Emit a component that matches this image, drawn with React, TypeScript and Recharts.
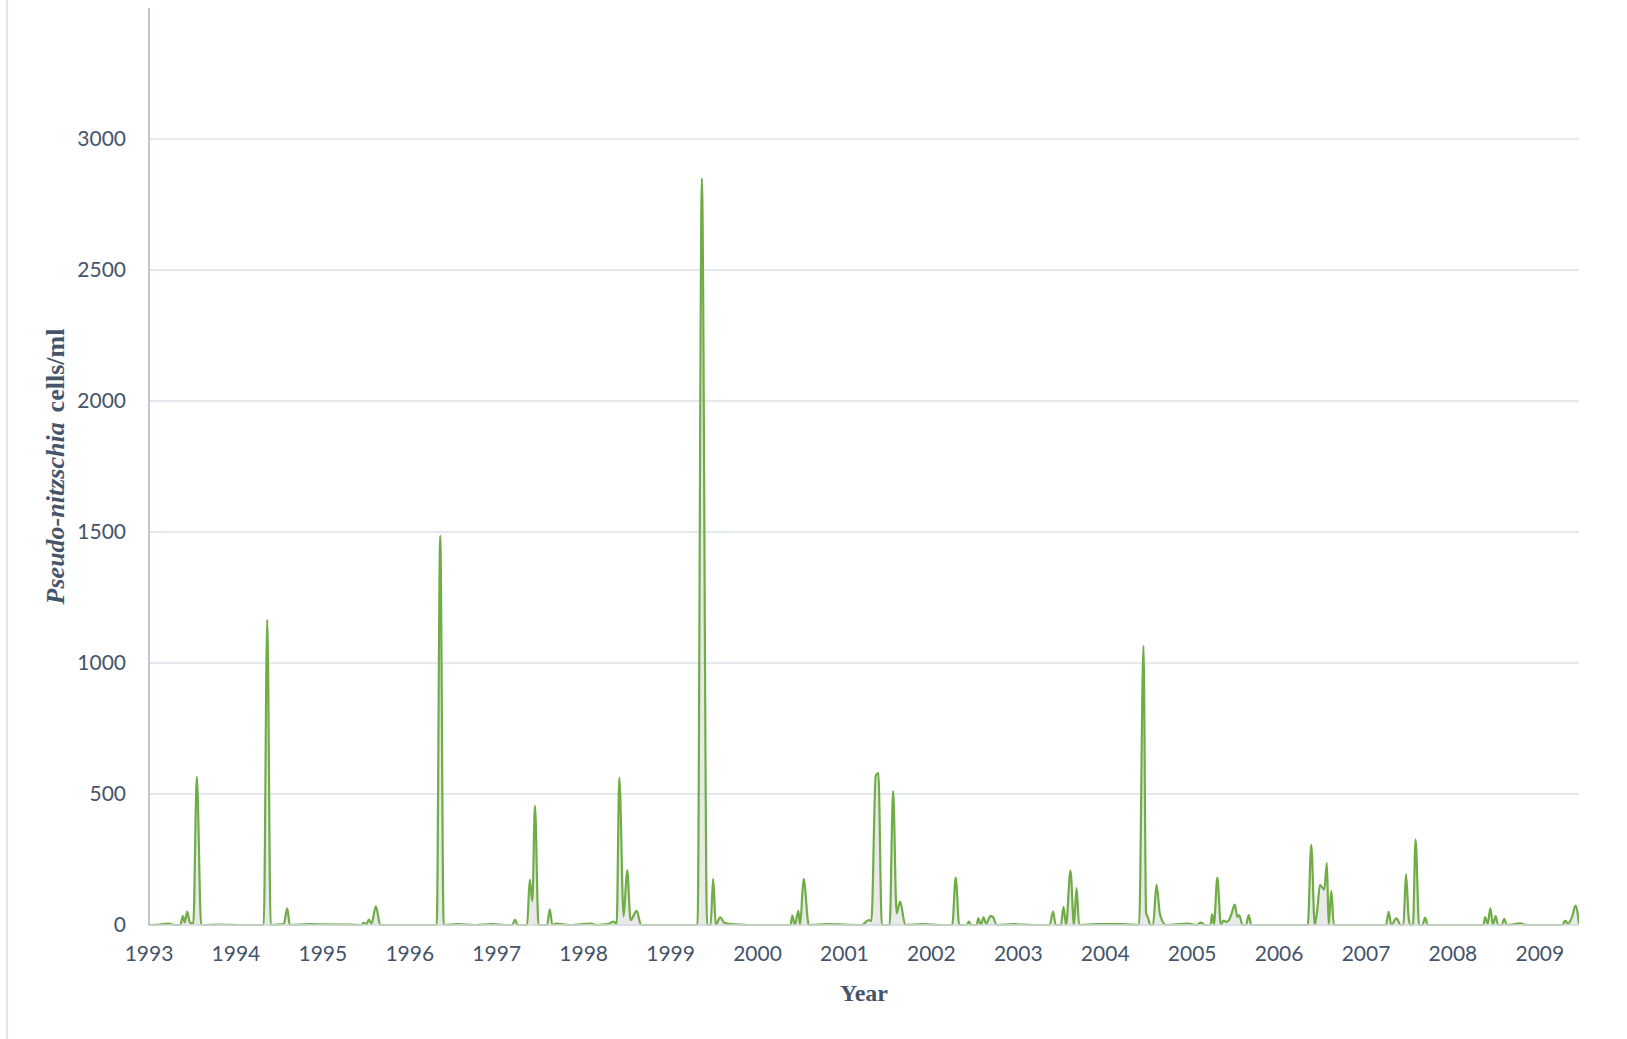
import { Area, CartesianGrid, ComposedChart, XAxis, YAxis } from "recharts";

const yearTicks = [
  1993, 1994, 1995, 1996, 1997, 1998, 1999, 2000, 2001, 2002, 2003, 2004, 2005,
  2006, 2007, 2008, 2009,
];
const countTicks = [0, 500, 1000, 1500, 2000, 2500, 3000];
const countMax = 3500;

// sample dates as decimal years, one line per year
const sampleDates = [
  1993.0, 1993.12, 1993.22, 1993.3, 1993.36, 1993.39, 1993.41, 1993.44, 1993.47, 1993.51, 1993.55, 1993.6, 1993.8,
  1994.1, 1994.32, 1994.36, 1994.4, 1994.55, 1994.59, 1994.62, 1994.85,
  1995.2, 1995.44, 1995.47, 1995.5, 1995.53, 1995.56, 1995.61, 1995.66, 1995.9,
  1996.31, 1996.35, 1996.39, 1996.55, 1996.75, 1996.95,
  1997.1, 1997.18, 1997.21, 1997.24, 1997.35, 1997.38, 1997.41, 1997.44, 1997.48, 1997.58, 1997.61, 1997.64, 1997.68, 1997.85,
  1998.08, 1998.15, 1998.28, 1998.34, 1998.38, 1998.41, 1998.46, 1998.5, 1998.54, 1998.61, 1998.66, 1998.85,
  1999.2, 1999.31, 1999.36, 1999.42, 1999.46, 1999.49, 1999.52, 1999.57, 1999.62, 1999.7, 1999.9,
  2000.3, 2000.38, 2000.4, 2000.43, 2000.47, 2000.49, 2000.53, 2000.59, 2000.8,
  2001.2, 2001.28, 2001.31, 2001.36, 2001.39, 2001.43, 2001.52, 2001.56, 2001.6, 2001.64, 2001.7, 2001.9,
  2002.1, 2002.24, 2002.28, 2002.32, 2002.41, 2002.43, 2002.46, 2002.52, 2002.54, 2002.57, 2002.6, 2002.63, 2002.68, 2002.71, 2002.75, 2002.95,
  2003.2, 2003.36, 2003.4, 2003.43, 2003.49, 2003.52, 2003.55, 2003.6, 2003.64, 2003.67, 2003.7, 2003.9,
  2004.2, 2004.39, 2004.44, 2004.47, 2004.49, 2004.52, 2004.55, 2004.59, 2004.63, 2004.7, 2004.95,
  2005.05, 2005.1, 2005.15, 2005.21, 2005.23, 2005.25, 2005.29, 2005.33, 2005.36, 2005.39, 2005.42, 2005.45, 2005.49, 2005.52, 2005.54, 2005.58, 2005.62, 2005.65, 2005.68, 2005.85,
  2006.2, 2006.33, 2006.37, 2006.41, 2006.44, 2006.47, 2006.52, 2006.55, 2006.57, 2006.6, 2006.63, 2006.7, 2006.9,
  2007.1, 2007.23, 2007.26, 2007.29, 2007.35, 2007.4, 2007.43, 2007.46, 2007.49, 2007.51, 2007.54, 2007.57, 2007.61, 2007.65, 2007.68, 2007.71, 2007.9,
  2008.2, 2008.35, 2008.37, 2008.4, 2008.43, 2008.46, 2008.49, 2008.52, 2008.56, 2008.59, 2008.62, 2008.77, 2008.85,
  2009.1, 2009.26, 2009.29, 2009.32, 2009.37, 2009.41, 2009.45,
];

// Pseudo-nitzschia cells/ml, same layout as sampleDates
const cellsPerMl = [
  0, 2, 5, 0, 0, 34, 10, 51, 10, 5, 565, 0, 2,
  0, 0, 1165, 0, 3, 64, 0, 3,
  2, 0, 8, 3, 21, 5, 71, 0, 0,
  0, 1485, 0, 3, 0, 3,
  0, 0, 21, 0, 0, 173, 91, 455, 0, 0, 60, 0, 5, 0,
  5, 0, 3, 13, 5, 563, 33, 210, 19, 54, 0, 0,
  0, 0, 2850, 0, 0, 176, 0, 29, 8, 3, 0,
  0, 0, 36, 0, 54, 0, 176, 0, 3,
  0, 19, 15, 570, 580, 0, 0, 511, 45, 89, 0, 3,
  0, 0, 181, 0, 0, 13, 0, 0, 25, 0, 29, 5, 34, 30, 0, 3,
  0, 0, 51, 0, 0, 69, 0, 208, 0, 141, 0, 3,
  3, 0, 1065, 45, 30, 0, 0, 153, 40, 0, 5,
  0, 9, 0, 0, 42, 0, 181, 0, 17, 12, 17, 40, 78, 30, 38, 0, 0, 38, 0, 0,
  0, 0, 306, 0, 60, 153, 135, 237, 0, 130, 0, 0, 0,
  0, 0, 50, 0, 25, 0, 0, 194, 30, 0, 0, 327, 0, 0, 28, 0, 0,
  0, 0, 30, 5, 64, 0, 34, 0, 0, 23, 0, 6, 0,
  0, 0, 17, 5, 30, 74, 5,
];

const rows = sampleDates.map((t, i) => ({ t, cells: cellsPerMl[i] ?? 0 }));

const INK = "#44546a";
const tickStyle = { fontFamily: "Lato, sans-serif", fontSize: 21, fill: INK };
const serif = "'Liberation Serif', 'Times New Roman', serif";

// grid lines only at the labelled ticks (no line at the 3500 top)
function gridRows(props: any) {
  const yAxis = props?.yAxis;
  if (yAxis && typeof yAxis.scale === "function") {
    return countTicks.map((v) => yAxis.scale(v));
  }
  const off = props?.offset ?? { top: 8, height: 917 };
  return countTicks.map((v) => off.top + off.height * (1 - v / countMax));
}

function YTitle(props: any) {
  const vb = props.viewBox ?? { x: 0, y: 8, width: 149, height: 917 };
  const cx = 55;
  const cy = vb.y + vb.height / 2;
  return (
    <text
      x={cx}
      y={cy}
      transform={`rotate(-90 ${cx} ${cy})`}
      textAnchor="middle"
      dominantBaseline="central"
      fontFamily={serif}
      fontWeight="bold"
      fontSize={26}
      fill={INK}
    >
      <tspan fontStyle="italic">Pseudo-nitzschia</tspan>
      <tspan dx={10}>cells/ml</tspan>
    </text>
  );
}

function XTitle(props: any) {
  const vb = props.viewBox ?? { x: 149, y: 925, width: 1430, height: 114 };
  return (
    <text
      x={vb.x + vb.width / 2}
      y={vb.y + 68}
      textAnchor="middle"
      dominantBaseline="central"
      fontFamily={serif}
      fontWeight="bold"
      fontSize={24}
      fill={INK}
    >
      Year
    </text>
  );
}

export default function App() {
  return (
    <div
      style={{
        position: "absolute",
        left: 0,
        top: 0,
        width: 1627,
        height: 1039,
        background: "#fff",
      }}
    >
      <div
        style={{
          position: "absolute",
          left: 6,
          top: 0,
          width: 2,
          height: 1039,
          background: "#e1e5ec",
        }}
      />
      <ComposedChart
        width={1627}
        height={1039}
        data={rows}
        margin={{ top: 8, right: 48, bottom: 0, left: 0 }}
      >
        <CartesianGrid
          vertical={false}
          stroke="#dde1e8"
          strokeWidth={1.5}
          horizontalCoordinatesGenerator={gridRows}
        />
        <XAxis
          dataKey="t"
          type="number"
          domain={[1993, 2009.45]}
          ticks={yearTicks}
          interval={0}
          allowDataOverflow
          height={114}
          tickLine={false}
          axisLine={{ stroke: "#d9dde4", strokeWidth: 1.5 }}
          tick={tickStyle}
          tickMargin={15}
          label={{ content: (p: any) => <XTitle {...p} /> }}
        />
        <YAxis
          type="number"
          domain={[0, countMax]}
          ticks={countTicks}
          interval={0}
          width={149}
          tickLine={false}
          axisLine={{ stroke: "#a9b3c6", strokeWidth: 1.5 }}
          tick={tickStyle}
          tickMargin={17}
          label={{ content: (p: any) => <YTitle {...p} /> }}
        />
        <Area
          type="monotone"
          dataKey="cells"
          stroke="#70ad47"
          strokeWidth={2.2}
          fill="#a6a6a6"
          fillOpacity={0.25}
          dot={false}
          activeDot={false}
          isAnimationActive={false}
        />
      </ComposedChart>
    </div>
  );
}
